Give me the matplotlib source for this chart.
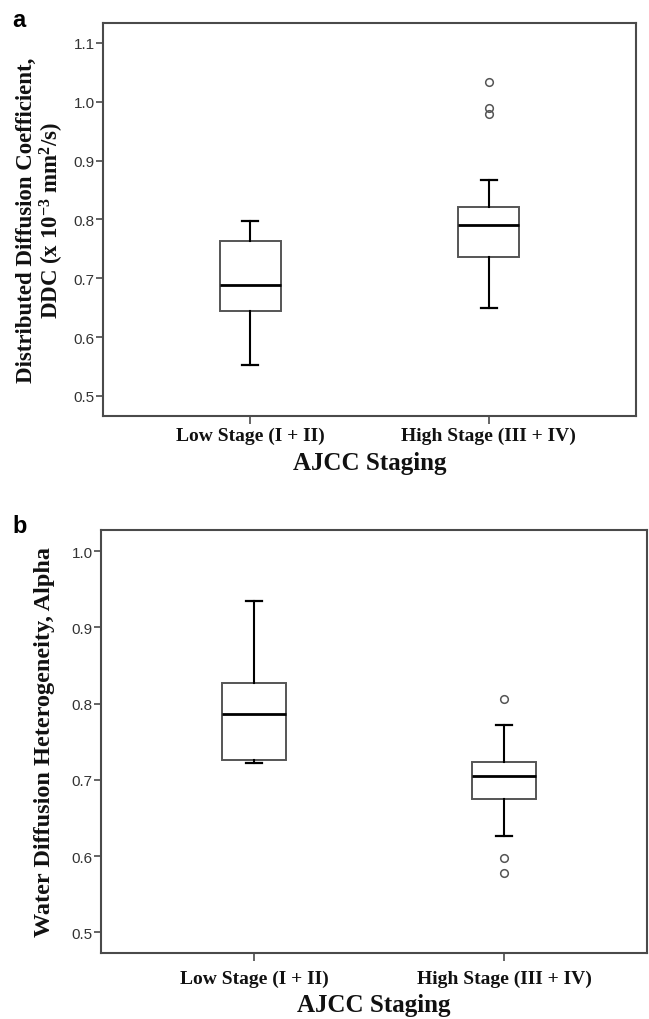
import matplotlib
matplotlib.use("Agg")
import matplotlib.pyplot as plt

# ---------------- data ----------------
categories = ["Low Stage (I + II)", "High Stage (III + IV)"]

# Panel a: DDC (x 10^-3 mm^2/s)
ddc_whislo = [0.553, 0.650]
ddc_q1 = [0.644, 0.736]
ddc_med = [0.688, 0.790]
ddc_q3 = [0.763, 0.821]
ddc_whishi = [0.798, 0.867]
ddc_fliers = [[], [1.034, 0.989, 0.979]]

# Panel b: alpha
alp_whislo = [0.722, 0.627]
alp_q1 = [0.7265, 0.675]
alp_med = [0.787, 0.705]
alp_q3 = [0.8275, 0.7235]
alp_whishi = [0.934, 0.772]
alp_fliers = [[], [0.806, 0.598, 0.578]]

ddc_ticks = [0.5, 0.6, 0.7, 0.8, 0.9, 1.0, 1.1]
alp_ticks = [0.5, 0.6, 0.7, 0.8, 0.9, 1.0]

plt.rcParams['mathtext.default'] = 'regular'

fig = plt.figure(figsize=(6.49, 10.20), dpi=100)

SERIF = 'Liberation Serif'
SANS = 'Liberation Sans'
FRAME = '#4a4a4a'
BOXC = '#555555'


def make_stats(lo, q1, med, q3, hi, fl):
    out = []
    for i in range(len(lo)):
        out.append(dict(whislo=lo[i], q1=q1[i], med=med[i], q3=q3[i],
                        whishi=hi[i], fliers=fl[i], label=categories[i]))
    return out


def draw(ax, stats, ticks, ylim, xlim, ylabel, ylabel_size, ylabel_x,
         xpad, xlabelpad):
    ax.bxp(stats, positions=[1, 2], widths=0.255, showfliers=True,
           patch_artist=True, capwidths=0.065,
           boxprops=dict(facecolor='white', edgecolor=BOXC, linewidth=1.4),
           medianprops=dict(color='black', linewidth=2.0),
           whiskerprops=dict(color='black', linewidth=1.5),
           capprops=dict(color='black', linewidth=1.6),
           flierprops=dict(marker='o', markersize=5.5, markerfacecolor='none',
                           markeredgecolor=BOXC, markeredgewidth=1.1))
    ax.set_xlim(*xlim)
    ax.set_ylim(*ylim)
    ax.set_yticks(ticks)
    ax.set_yticklabels([f"{t:.1f}" for t in ticks], fontfamily=SANS,
                       fontsize=11, color='#333333')
    ax.set_xticks([1, 2])
    ax.set_xticklabels(categories, fontfamily=SERIF, fontweight='bold',
                       fontsize=14, color='#111111')
    ax.tick_params(axis='y', length=5, width=1.2, color=FRAME, pad=1)
    ax.tick_params(axis='x', length=6, width=1.2, color=FRAME, pad=xpad)
    for s in ax.spines.values():
        s.set_color(FRAME)
        s.set_linewidth(1.5)
    ax.set_xlabel("AJCC Staging", fontfamily=SERIF, fontweight='bold',
                  fontsize=18, labelpad=xlabelpad, color='#111111')
    ax.set_ylabel(ylabel, fontfamily=SERIF, fontweight='bold',
                  fontsize=ylabel_size, linespacing=1.05, color='#111111')
    ax.yaxis.set_label_coords(ylabel_x, 0.5)


ax1 = fig.add_axes([0.1587, 0.5912, 0.8213, 0.3853])
draw(ax1, make_stats(ddc_whislo, ddc_q1, ddc_med, ddc_q3, ddc_whishi, ddc_fliers),
     ddc_ticks, (0.466, 1.134), (0.384, 2.616),
     "Distributed Diffusion Coefficient,\nDDC (x 10$^{-3}$ mm$^{2}$/s)", 16.5, -0.069,
     2, 5)

ax2 = fig.add_axes([0.1556, 0.0647, 0.8413, 0.4150])
draw(ax2, make_stats(alp_whislo, alp_q1, alp_med, alp_q3, alp_whishi, alp_fliers),
     alp_ticks, (0.473, 1.028), (0.388, 2.572),
     "Water Diffusion Heterogeneity, Alpha", 17.5, -0.085,
     6, 4)

fig.text(12 / 649, 1 - 27 / 1020, "a", fontfamily=SANS, fontweight='bold',
         fontsize=17, ha='left', va='baseline')
fig.text(12 / 649, 1 - 533 / 1020, "b", fontfamily=SANS, fontweight='bold',
         fontsize=17, ha='left', va='baseline')

fig.savefig("out.png", dpi=100)
